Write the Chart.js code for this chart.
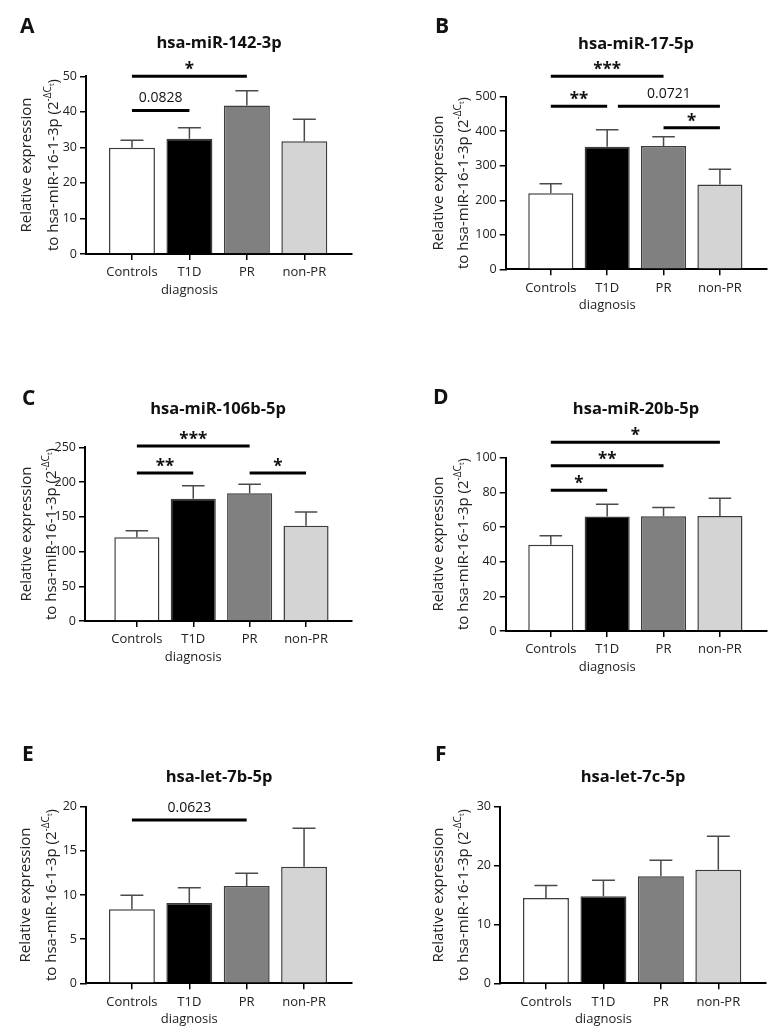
<!DOCTYPE html>
<html><head><meta charset="utf-8">
<script src="https://cdn.jsdelivr.net/npm/chart.js@4.4.0/dist/chart.umd.min.js"></script>
<style>
body{margin:0;background:#fff;width:775px;height:1036px;position:relative;overflow:hidden;font-family:'Open Sans',sans-serif;color:#111}
canvas{position:absolute}
.lt{position:absolute;font-weight:700;font-size:21px;line-height:1;transform:translate(0,-50%)}
.tt{position:absolute;font-weight:700;font-size:16.5px;line-height:1;transform:translate(-50%,-50%);white-space:nowrap}
.yt{position:absolute;font-size:15px;line-height:1;transform:translate(-50%,-50%) rotate(-90deg);white-space:nowrap;color:#222}
.sp{font-size:10px;position:relative;top:-0.7em}
.sb{font-size:7.5px;position:relative;top:0.35em}
</style></head><body>
<script>
// ---------- data ----------
const categories = ['Controls', ['T1D', 'diagnosis'], 'PR', 'non-PR'];
const barColors = ['#ffffff', '#000000', '#808080', '#d4d4d4'];
const letters = ['A', 'B', 'C', 'D', 'E', 'F'];
const titles = ['hsa-miR-142-3p', 'hsa-miR-17-5p', 'hsa-miR-106b-5p', 'hsa-miR-20b-5p', 'hsa-let-7b-5p', 'hsa-let-7c-5p'];
const yTitleLine1 = 'Relative expression';
const yTitleLine2 = 'to hsa-miR-16-1-3p (2';

const meanA = [29.9, 32.4, 41.8, 31.7];
const semA  = [2.1, 3.1, 4.1, 6.2];
const meanB = [220, 355, 357, 246];
const semB  = [28, 49, 27, 44];
const meanC = [120.4, 176, 183.7, 137];
const semC  = [9.6, 18.7, 13, 20];
const meanD = [49.8, 66.0, 66.2, 66.4];
const semD  = [5.2, 7.1, 5.0, 10.2];
const meanE = [8.38, 9.09, 11.02, 13.2];
const semE  = [1.58, 1.74, 1.43, 4.35];
const meanF = [14.5, 14.8, 18.2, 19.3];
const semF  = [2.1, 2.7, 2.7, 5.66];

const yMaxes = [50, 500, 250, 100, 20, 30];
const ySteps = [10, 100, 50, 20, 5, 10];

// brackets: [from category, to category, y value, label]
const bracketsA = [[0, 1, 40.4, '0.0828'], [0, 2, 50, '*']];
const bracketsB = [[0, 2, 559, '***'], [0, 1, 472, '**'], [1.19, 3, 472, '0.0721'], [2, 3, 410, '*']];
const bracketsC = [[0, 2, 252, '***'], [0, 1, 213, '**'], [2, 3, 213, '*']];
const bracketsD = [[0, 3, 108.9, '*'], [0, 2, 95.4, '**'], [0, 1, 81.2, '*']];
const bracketsE = [[0, 2, 18.5, '0.0623']];
const bracketsF = [];

const means = [meanA, meanB, meanC, meanD, meanE, meanF];
const sems = [semA, semB, semC, semD, semE, semF];
const brackets = [bracketsA, bracketsB, bracketsC, bracketsD, bracketsE, bracketsF];

// ---------- layout ----------
const layout = [
  {cv:[0,0,388,325],   plot:[86,76.3,352,254],      xr:[-0.80,3.83], letter:[20,25],  title:[219,42],  yt:[25,51.5,165]},
  {cv:[388,0,387,325], plot:[505.7,96.7,766.7,269.3], xr:[-0.80,3.83], letter:[435,25], title:[636,43],  yt:[436.7,461.7,183]},
  {cv:[0,330,388,345], plot:[85,447.3,351.7,621],   xr:[-0.92,3.81], letter:[22,397], title:[218,408], yt:[25,50,534]},
  {cv:[388,330,387,345], plot:[505.7,457.7,766.7,631], xr:[-0.80,3.83], letter:[433,396], title:[636,408], yt:[436.7,461.7,544]},
  {cv:[0,660,388,376], plot:[86,806.7,351.7,983.3], xr:[-0.80,3.83], letter:[22,753], title:[219,776], yt:[23.5,49.5,895]},
  {cv:[388,660,387,376], plot:[500,806.7,766,983.3], xr:[-0.80,3.83], letter:[435,753], title:[633,776], yt:[436.7,461.7,895]}
];
const WY = 45, HX = 45;

const annotPlugin = {
  id: 'annot',
  afterDatasetsDraw(chart, args, opts) {
    const ctx = chart.ctx, xs = chart.scales.x, ys = chart.scales.y;
    const meta = chart.getDatasetMeta(0);
    ctx.save();
    ctx.strokeStyle = '#4a4a4a'; ctx.lineWidth = 1.5;
    opts.sem.forEach((s, i) => {
      const bar = meta.data[i];
      const x = bar.x, w = bar.width, m = opts.mean[i];
      const y0 = ys.getPixelForValue(m), y1 = ys.getPixelForValue(m + s);
      ctx.beginPath();
      ctx.moveTo(x, y0); ctx.lineTo(x, y1);
      ctx.moveTo(x - w / 4, y1); ctx.lineTo(x + w / 4, y1);
      ctx.stroke();
    });
    ctx.strokeStyle = '#000'; ctx.fillStyle = '#111'; ctx.lineWidth = 3;
    ctx.textAlign = 'center'; ctx.textBaseline = 'alphabetic';
    opts.brackets.forEach(([a, b, v, label]) => {
      const x1 = xs.getPixelForValue(a), x2 = xs.getPixelForValue(b), y = ys.getPixelForValue(v);
      ctx.beginPath(); ctx.moveTo(x1, y); ctx.lineTo(x2, y); ctx.stroke();
      const star = label[0] === '*';
      ctx.font = star ? '700 17px "Open Sans"' : '400 14px "Open Sans"';
      ctx.fillText(label, (x1 + x2) / 2, star ? y - 1 : y - 8);
    });
    ctx.restore();
  }
};

function addDiv(cls, html, x, y) {
  const d = document.createElement('div');
  d.className = cls; d.innerHTML = html;
  d.style.left = x + 'px'; d.style.top = y + 'px';
  document.body.appendChild(d);
}

layout.forEach((L, k) => {
  const [cx, cy, cw, ch] = L.cv;
  const [pl, pt, pr, pb] = L.plot;
  const c = document.createElement('canvas');
  c.width = cw; c.height = ch;
  c.style.left = cx + 'px'; c.style.top = cy + 'px';
  document.body.appendChild(c);

  addDiv('lt', letters[k], L.letter[0], L.letter[1]);
  addDiv('tt', titles[k], L.title[0], L.title[1]);
  addDiv('yt', yTitleLine1, L.yt[0], L.yt[2]);
  addDiv('yt', yTitleLine2 + '<span class="sp">-ΔC<span class="sb">t</span></span>)', L.yt[1], L.yt[2]);

  const tickFont = {family: 'Open Sans', size: 13, lineHeight: 1.35};
  const gridCfg = {display: true, offset: false, drawOnChartArea: false, drawTicks: true, tickLength: 6, color: '#000', lineWidth: 1.5};
  new Chart(c, {
    type: 'bar',
    data: {
      datasets: [{
        data: means[k].map((v, i) => ({x: i, y: v})),
        backgroundColor: barColors,
        borderColor: '#3c3c3c',
        borderWidth: 1.5,
        barPercentage: 0.8,
        categoryPercentage: 1
      }]
    },
    options: {
      animation: false, responsive: false, devicePixelRatio: 1,
      layout: {padding: {left: pl - cx - WY, top: pt - cy, right: cx + cw - pr, bottom: cy + ch - pb - HX}},
      plugins: {legend: {display: false}, tooltip: {enabled: false}, title: {display: false},
        annot: {mean: means[k], sem: sems[k], brackets: brackets[k]}},
      scales: {
        x: {
          type: 'linear', min: L.xr[0], max: L.xr[1], offset: false,
          afterBuildTicks: s => { s.ticks = [0, 1, 2, 3].map(v => ({value: v})); },
          afterFit: s => { s.height = HX; },
          ticks: {callback: v => categories[v], font: tickFont, color: '#222', padding: 4, maxRotation: 0, autoSkip: false},
          grid: gridCfg,
          border: {display: true, color: '#000', width: 2}
        },
        y: {
          min: 0, max: yMaxes[k],
          afterFit: s => { s.width = WY; },
          ticks: {stepSize: ySteps[k], font: {family: 'Open Sans', size: 12.5}, color: '#222', padding: 3},
          grid: gridCfg,
          border: {display: true, color: '#000', width: 2}
        }
      }
    },
    plugins: [annotPlugin]
  });
});
</script>
</body></html>
